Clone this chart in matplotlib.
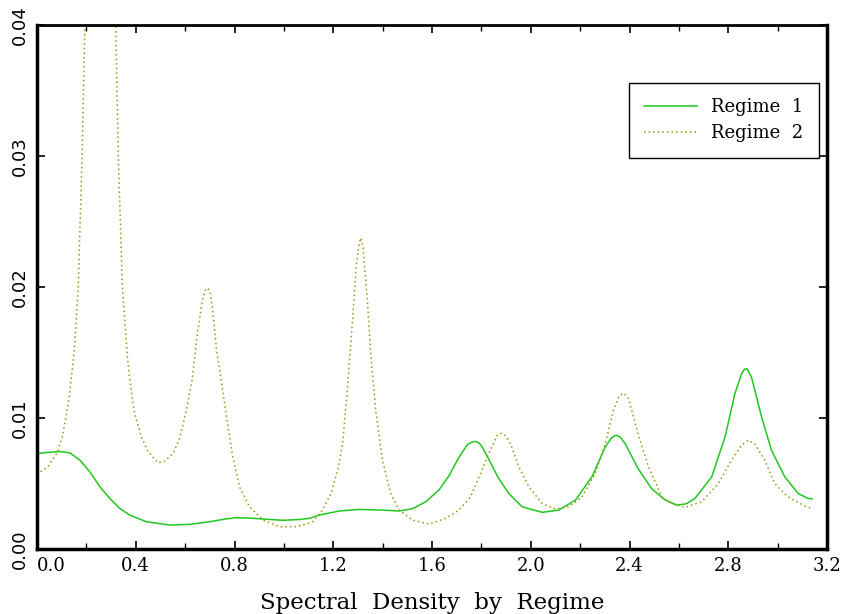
import matplotlib
matplotlib.use("Agg")
import matplotlib.pyplot as plt
from matplotlib.ticker import MultipleLocator

# Regime 1 (solid green)
x1 = [0.000, 0.050, 0.093, 0.133, 0.174, 0.214, 0.255, 0.295, 0.335, 0.376, 0.443, 0.537,
      0.618, 0.699, 0.760, 0.807, 0.860, 0.915, 0.995, 1.063, 1.103, 1.143, 1.224, 1.305,
      1.399, 1.467, 1.521, 1.574, 1.628, 1.669, 1.709, 1.743, 1.760, 1.775, 1.790, 1.803,
      1.837, 1.868, 1.911, 1.965, 2.046, 2.113, 2.181, 2.248, 2.302, 2.328, 2.345, 2.362,
      2.382, 2.436, 2.490, 2.544, 2.590, 2.630, 2.665, 2.733, 2.787, 2.827, 2.854, 2.866,
      2.876, 2.894, 2.935, 2.975, 3.029, 3.083, 3.123, 3.140]
y1 = [0.00729, 0.00738, 0.00744, 0.00734, 0.00678, 0.00589, 0.00475, 0.00386, 0.00310, 0.00259,
      0.00208, 0.00183, 0.00188, 0.00208, 0.00228, 0.00239, 0.00236, 0.00229, 0.00219, 0.00225,
      0.00234, 0.00259, 0.00290, 0.00302, 0.00297, 0.00290, 0.00307, 0.00360, 0.00450, 0.00560,
      0.00700, 0.00795, 0.00815, 0.00822, 0.00810, 0.00780, 0.00660, 0.00545, 0.00424, 0.00322,
      0.00280, 0.00297, 0.00373, 0.00551, 0.00780, 0.00850, 0.00869, 0.00855, 0.00805, 0.00610,
      0.00460, 0.00375, 0.00335, 0.00345, 0.00386, 0.00551, 0.00856, 0.01186, 0.01338, 0.01372,
      0.01376, 0.01313, 0.01008, 0.00754, 0.00551, 0.00424, 0.00386, 0.00383]

# Regime 2 (dotted olive)
x2 = [0.000, 0.045, 0.080, 0.102, 0.127, 0.150, 0.167, 0.183, 0.194, 0.210, 0.232, 0.256,
      0.280, 0.300, 0.319, 0.329, 0.346, 0.365, 0.376, 0.389, 0.396, 0.423, 0.450, 0.490,
      0.517, 0.551, 0.578, 0.605, 0.628, 0.650, 0.670, 0.682, 0.692, 0.702, 0.712, 0.727,
      0.746, 0.766, 0.793, 0.820, 0.861, 0.915, 0.982, 1.049, 1.090, 1.116, 1.157, 1.191,
      1.218, 1.238, 1.258, 1.278, 1.294, 1.305, 1.312, 1.321, 1.339, 1.352, 1.372, 1.399,
      1.433, 1.467, 1.521, 1.588, 1.655, 1.709, 1.756, 1.797, 1.830, 1.864, 1.884, 1.900,
      1.918, 1.952, 1.992, 2.046, 2.100, 2.154, 2.208, 2.261, 2.302, 2.335, 2.356, 2.376,
      2.396, 2.436, 2.477, 2.531, 2.558, 2.625, 2.692, 2.760, 2.813, 2.854, 2.880, 2.907,
      2.948, 2.988, 3.042, 3.117, 3.140]
y2 = [0.00569, 0.00630, 0.00730, 0.00850, 0.01110, 0.01490, 0.02000, 0.03020, 0.04000, 0.06000,
      0.08500, 0.09500, 0.08000, 0.05800, 0.04000, 0.03020, 0.02000, 0.01490, 0.01290, 0.01110,
      0.01030, 0.00856, 0.00741, 0.00658, 0.00670, 0.00729, 0.00843, 0.01060, 0.01290, 0.01650,
      0.01900, 0.01975, 0.01992, 0.01950, 0.01820, 0.01520, 0.01290, 0.01030, 0.00703, 0.00475,
      0.00322, 0.00221, 0.00170, 0.00170, 0.00190, 0.00208, 0.00297, 0.00424, 0.00602, 0.00805,
      0.01237, 0.01745, 0.02177, 0.02330, 0.02375, 0.02300, 0.01872, 0.01491, 0.01059, 0.00678,
      0.00424, 0.00297, 0.00221, 0.00190, 0.00234, 0.00297, 0.00398, 0.00576, 0.00729, 0.00868,
      0.00885, 0.00860, 0.00805, 0.00627, 0.00475, 0.00348, 0.00305, 0.00322, 0.00398, 0.00576,
      0.00805, 0.01060, 0.01160, 0.01190, 0.01150, 0.00870, 0.00627, 0.00398, 0.00360, 0.00318,
      0.00360, 0.00500, 0.00678, 0.00792, 0.00830, 0.00805, 0.00678, 0.00500, 0.00398, 0.00322,
      0.00310]

labels = ["Regime  1", "Regime  2"]
xlabel = "Spectral  Density  by  Regime"
xticks = [0.0, 0.4, 0.8, 1.2, 1.6, 2.0, 2.4, 2.8, 3.2]
yticks = [0.00, 0.01, 0.02, 0.03, 0.04]

fig = plt.figure(figsize=(8.44, 6.14), dpi=100)
ax = fig.add_axes([37/844, 65/614, 790/844, 524/614])

ax.plot(x1, y1, color="#1ec81e", lw=1.1, label=labels[0])
ax.plot(x2, y2, color="#9a9410", lw=1.1, linestyle=(0, (1, 2)), label=labels[1])

ax.set_xlim(0, 3.2)
ax.set_ylim(0, 0.04)
ax.set_xticks(xticks)
ax.set_xticklabels([f"{v:.1f}" for v in xticks], family="DejaVu Serif", fontsize=13)
ax.xaxis.set_minor_locator(MultipleLocator(0.2))
ax.set_yticks(yticks)
ax.set_yticklabels([f"{v:.2f}" for v in yticks], rotation=90, va="center", fontsize=13,
                   family="DejaVu Sans")
ax.tick_params(which="major", direction="in", top=True, right=True, length=6, width=1.2)
ax.tick_params(which="minor", direction="in", top=True, right=True, length=4, width=1.0)
ax.tick_params(axis="x", pad=6)
ax.tick_params(axis="y", pad=6)
ax.get_xticklabels()[0].set_horizontalalignment("left")

for s in ["left", "bottom", "right"]:
    ax.spines[s].set_linewidth(2.5)
ax.spines["top"].set_linewidth(2.0)

ax.set_xlabel(xlabel, family="DejaVu Serif", fontsize=16.5, labelpad=12)

leg = ax.legend(loc="upper left", bbox_to_anchor=((629-37)/790, (549-83)/524),
                borderaxespad=0, frameon=True, fancybox=False, edgecolor="black",
                framealpha=1, prop={"family": "DejaVu Serif", "size": 13},
                handlelength=2.9, borderpad=0.85, labelspacing=0.45, handletextpad=0.8)
leg.get_frame().set_linewidth(1.0)

fig.savefig("out.png", dpi=100)
